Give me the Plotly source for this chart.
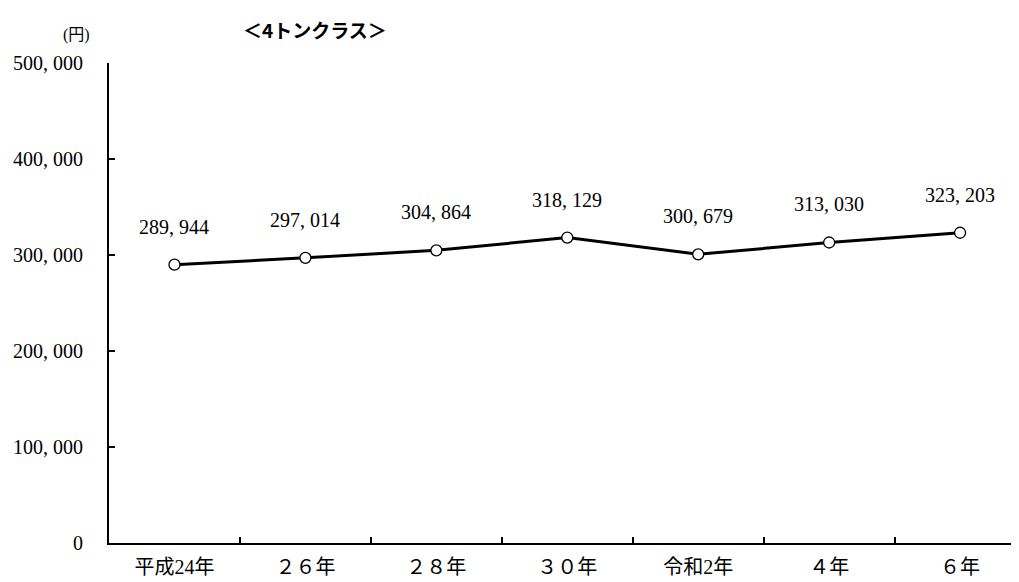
import plotly.graph_objects as go

categories = ["平成24年", "２６年", "２８年", "３０年", "令和2年", "４年", "６年"]
values = [289944, 297014, 304864, 318129, 300679, 313030, 323203]
y_ticks = [0, 100000, 200000, 300000, 400000, 500000]
y_tick_labels = ["0", "100, 000", "200, 000", "300, 000", "400, 000", "500, 000"]
value_labels = [f"{v:,}".replace(",", ", ") for v in values]

FONT = "Liberation Serif, Noto Sans CJK JP, serif"
xs = list(range(len(categories)))

fig = go.Figure()
fig.add_trace(go.Scatter(
    x=xs, y=values, mode="lines+markers",
    line=dict(color="black", width=3),
    marker=dict(symbol="circle", size=11, color="white", line=dict(color="black", width=1.3)),
    showlegend=False, hoverinfo="skip",
))
# invisible trace for boundary ticks axis
fig.add_trace(go.Scatter(x=[0.5], y=[0], xaxis="x2", mode="markers",
                         marker=dict(opacity=0), showlegend=False, hoverinfo="skip"))

for x, v, t in zip(xs, values, value_labels):
    fig.add_annotation(x=x, y=v, text=t, showarrow=False, yshift=38,
                       font=dict(family=FONT, size=20, color="black"))

fig.add_annotation(xref="paper", yref="paper", x=-0.036, y=1.058, text="(円)",
                   xanchor="center", yanchor="middle",
                   showarrow=False, font=dict(family=FONT, size=16, color="black"))
fig.add_annotation(xref="paper", yref="paper", x=0.145, y=1.069, xanchor="left",
                   yanchor="middle", text="<b>＜4トンクラス＞</b>", showarrow=False,
                   font=dict(family="Noto Sans CJK JP, sans-serif", size=19, color="black"))

fig.update_layout(
    width=1011, height=574,
    margin=dict(l=101, r=0, t=55, b=39),
    plot_bgcolor="white", paper_bgcolor="white",
    xaxis=dict(range=[-0.5, 6.45], tickvals=xs, ticktext=categories, ticks="",
               showline=True, linecolor="black", linewidth=2, showgrid=False,
               zeroline=False, tickfont=dict(family=FONT, size=20, color="black"),
               ticklabelstandoff=5),
    xaxis2=dict(range=[-0.5, 6.45], overlaying="x", side="bottom", anchor="y",
                tickvals=[0.5, 1.5, 2.5, 3.5, 4.5, 5.5], ticks="inside", ticklen=6,
                tickwidth=2, tickcolor="black", showticklabels=False, showgrid=False,
                zeroline=False, showline=False),
    yaxis=dict(range=[0, 500000], tickvals=y_ticks, ticktext=y_tick_labels,
               ticks="inside", ticklen=6, tickwidth=2, tickcolor="black",
               showline=True, linecolor="black", linewidth=2, showgrid=False,
               zeroline=False, tickfont=dict(family=FONT, size=20, color="black"),
               ticklabelstandoff=20),
)

fig.write_html("out.html")
